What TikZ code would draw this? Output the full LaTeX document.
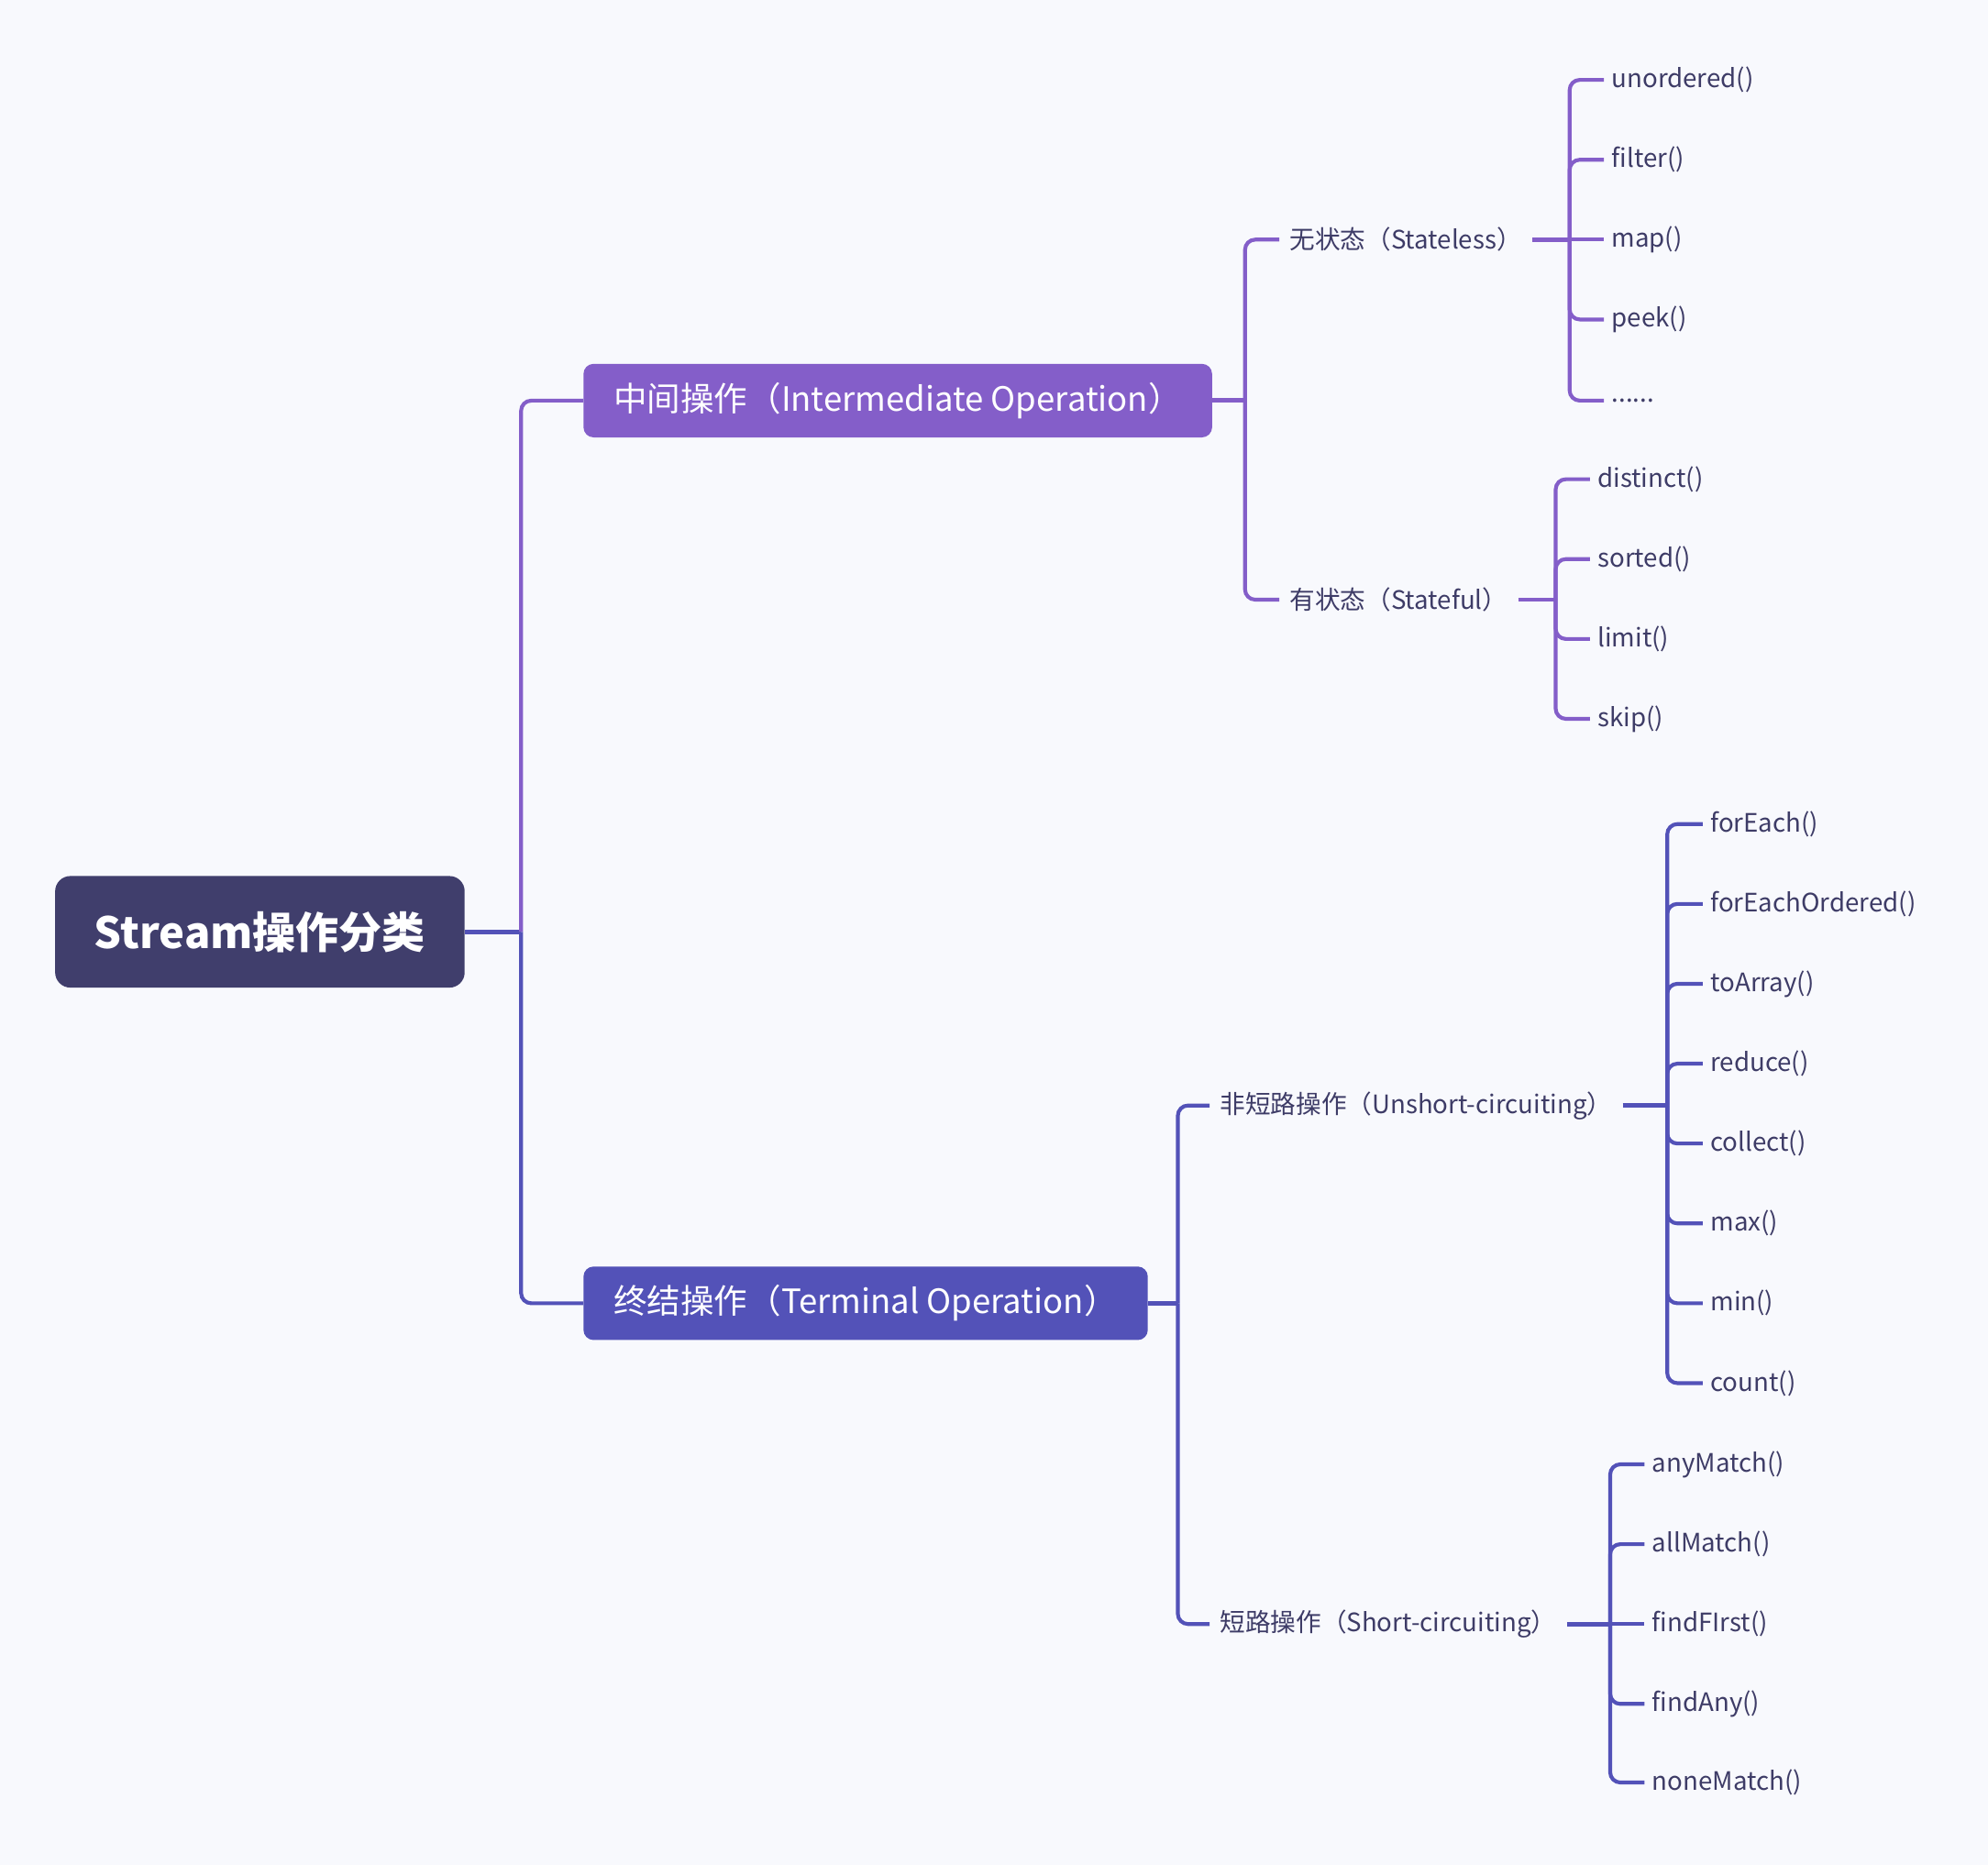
\documentclass[tikz,border=0pt]{standalone}
\usepackage{fontspec}
\newfontfamily\cjk{Noto Sans CJK SC}
\definecolor{bgc}{HTML}{F8F9FD}
\definecolor{rootc}{HTML}{403E6C}
\definecolor{purp}{HTML}{845EC9}
\definecolor{indi}{HTML}{5352B8}
\definecolor{txtc}{HTML}{3E3C67}
\begin{document}
\begin{tikzpicture}[x=1pt, y=-1pt,
  root/.style={fill=rootc, rounded corners=12pt, text=white, inner sep=0pt,
    font={\cjk\bfseries\fontsize{34}{40}\selectfont}, minimum width=323pt, minimum height=88pt},
  topic/.style={rounded corners=8pt, text=white, anchor=west, inner xsep=24pt,
    font={\cjk\fontsize{26.4}{31}\selectfont}, minimum height=58pt},
  sub/.style={text=txtc, anchor=west, inner xsep=8pt, font={\cjk\fontsize{20}{24}\selectfont}},
  leaf/.style={text=txtc, anchor=west, inner xsep=6pt, font={\cjk\fontsize{20}{24}\selectfont}},
  br/.style={line width=3pt, rounded corners=8pt},
  stub/.style={line width=3.6pt}]

\useasboundingbox[fill=bgc] (0,0) rectangle (1568,1471);

% ---------- Root and main topics ----------
\node[root] (root) at (205,735) {Stream操作分类};
\node[topic, fill=purp] (mid) at (460,316) {中间操作（Intermediate Operation）};
\node[topic, fill=indi] (term) at (460,1028) {终结操作（Terminal Operation）};

\coordinate (j0) at (411,735);
\draw[stub, indi] (root.east) -- (j0);
\draw[br, purp] (j0) |- (mid.west);
\draw[br, indi] (j0) |- (term.west);

% ---------- Intermediate operations ----------
\coordinate (j1) at (982,316);
\node[sub] (sl) at (1009,189) {无状态（Stateless）};
\node[sub] (sf) at (1009,473) {有状态（Stateful）};
\draw[stub, purp] (mid.east) -- (j1);
\draw[br, purp] (j1) |- (sl.west);
\draw[br, purp] (j1) |- (sf.west);

% stateless leaves
\coordinate (jsl) at (1238,189);
\node[leaf] (unord) at (1265,63) {unordered()};
\node[leaf] (filt) at (1265,126) {filter()};
\node[leaf] (map) at (1265,189) {map()};
\node[leaf] (peek) at (1265,252) {peek()};
\node[leaf] (etc) at (1265,316) {......};
\draw[stub, purp] (sl.east) -- (jsl);
\draw[br, purp] (jsl) |- (unord.west);
\draw[br, purp] (jsl) |- (filt.west);
\draw[br, purp] (jsl) -- (map.west);
\draw[br, purp] (jsl) |- (peek.west);
\draw[br, purp] (jsl) |- (etc.west);

% stateful leaves
\coordinate (jsf) at (1227,473);
\node[leaf] (dist) at (1254,378) {distinct()};
\node[leaf] (sort) at (1254,441) {sorted()};
\node[leaf] (lim) at (1254,504) {limit()};
\node[leaf] (skip) at (1254,567) {skip()};
\draw[stub, purp] (sf.east) -- (jsf);
\draw[br, purp] (jsf) |- (dist.west);
\draw[br, purp] (jsf) |- (sort.west);
\draw[br, purp] (jsf) |- (lim.west);
\draw[br, purp] (jsf) |- (skip.west);

% ---------- Terminal operations ----------
\coordinate (j2) at (929,1028);
\node[sub] (us) at (954,872) {非短路操作（Unshort-circuiting）};
\node[sub] (sc) at (954,1281) {短路操作（Short-circuiting）};
\draw[stub, indi] (term.east) -- (j2);
\draw[br, indi] (j2) |- (us.west);
\draw[br, indi] (j2) |- (sc.west);

% unshort-circuiting leaves
\coordinate (jus) at (1315,872);
\node[leaf] (fe) at (1343,650) {forEach()};
\node[leaf] (feo) at (1343,713) {forEachOrdered()};
\node[leaf] (arr) at (1343,776) {toArray()};
\node[leaf] (red) at (1343,839) {reduce()};
\node[leaf] (coll) at (1343,902) {collect()};
\node[leaf] (max) at (1343,965) {max()};
\node[leaf] (min) at (1343,1028) {min()};
\node[leaf] (cnt) at (1343,1091) {count()};
\draw[stub, indi] (us.east) -- (jus);
\draw[br, indi] (jus) |- (fe.west);
\draw[br, indi] (jus) |- (feo.west);
\draw[br, indi] (jus) |- (arr.west);
\draw[br, indi] (jus) |- (red.west);
\draw[br, indi] (jus) |- (coll.west);
\draw[br, indi] (jus) |- (max.west);
\draw[br, indi] (jus) |- (min.west);
\draw[br, indi] (jus) |- (cnt.west);

% short-circuiting leaves
\coordinate (jsc) at (1270,1281);
\node[leaf] (anym) at (1297,1155) {anyMatch()};
\node[leaf] (allm) at (1297,1218) {allMatch()};
\node[leaf] (ffst) at (1297,1281) {findFIrst()};
\node[leaf] (fany) at (1297,1344) {findAny()};
\node[leaf] (nonm) at (1297,1406) {noneMatch()};
\draw[stub, indi] (sc.east) -- (jsc);
\draw[br, indi] (jsc) |- (anym.west);
\draw[br, indi] (jsc) |- (allm.west);
\draw[br, indi] (jsc) -- (ffst.west);
\draw[br, indi] (jsc) |- (fany.west);
\draw[br, indi] (jsc) |- (nonm.west);

\end{tikzpicture}
\end{document}
